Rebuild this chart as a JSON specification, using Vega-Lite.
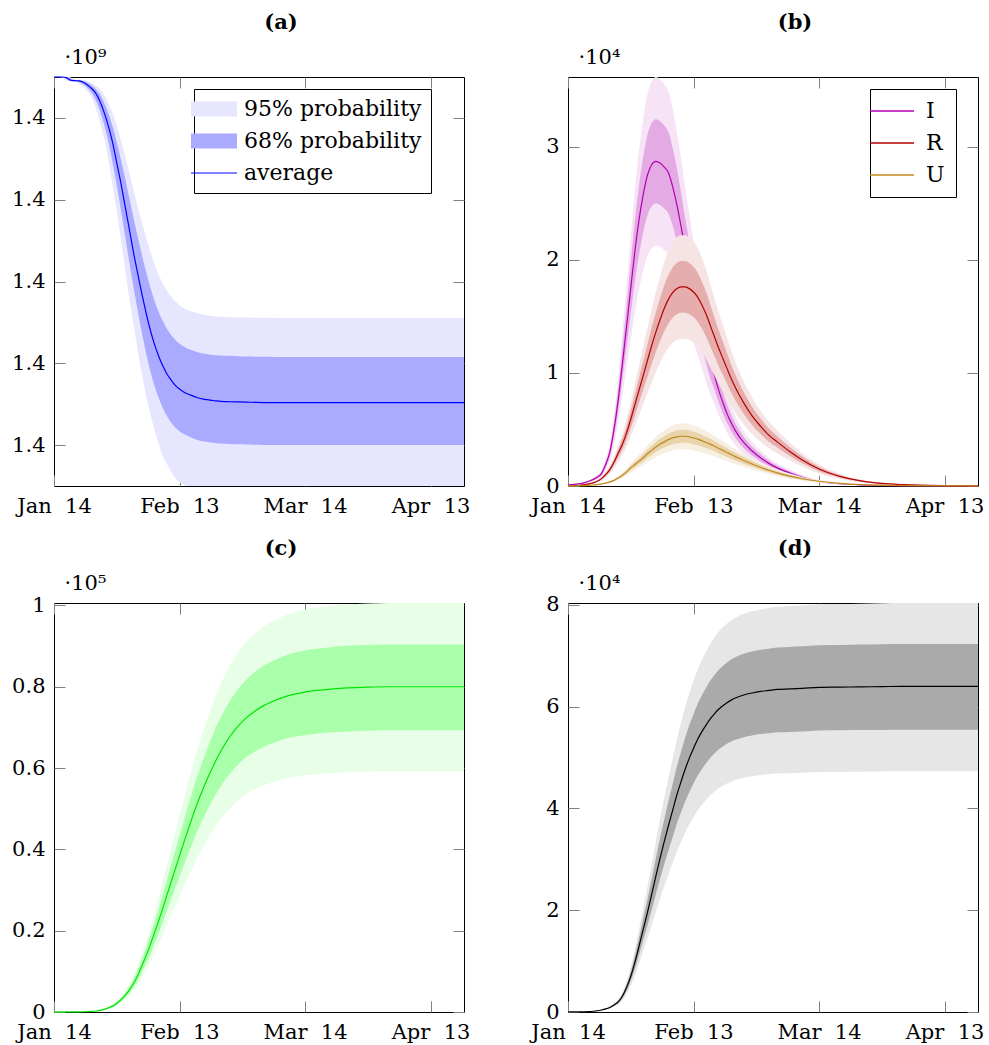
{
"$schema": "https://vega.github.io/schema/vega-lite/v6.json",
"padding": {"left": 11, "top": 11, "right": 5, "bottom": 5},
"background": "white",
"config": {
  "font": "DejaVu Serif",
  "view": {"stroke": "black", "strokeWidth": 1},
  "axis": {"tickSize": -11, "tickColor": "#808080", "tickWidth": 1, "labelPadding": 20, "labelFont": "DejaVu Serif", "labelFontSize": 21, "labelColor": "black", "titleFont": "DejaVu Serif", "titleFontSize": 21, "titleFontWeight": "normal", "titleColor": "black", "domain": false, "grid": false, "labelFlush": false, "labelOverlap": false},
  "title": {"font": "DejaVu Serif", "fontSize": 21, "fontWeight": "bold", "color": "black", "anchor": "middle", "frame": "group", "offset": 13, "baseline": "alphabetic"},
  "legend": {"orient": "none", "title": null, "strokeColor": "black", "fillColor": "white", "padding": 9, "labelFont": "DejaVu Serif", "labelFontSize": 22, "labelColor": "black", "labelLimit": 0, "symbolSize": 400, "rowPadding": 10}
},
"resolve": {"scale": {"color": "independent"}, "legend": {"color": "independent"}},
"datasets": {
"a": [
{"date":"2020-01-14","lo95":1400090000,"lo68":1400090000,"mean":1400090000,"hi68":1400090000,"hi95":1400090000},
{"date":"2020-01-15","lo95":1400090000,"lo68":1400090000,"mean":1400090000,"hi68":1400090000,"hi95":1400090000},
{"date":"2020-01-16","lo95":1400089811,"lo68":1400089915,"mean":1400090000,"hi68":1400090000,"hi95":1400090000},
{"date":"2020-01-17","lo95":1400088992,"lo68":1400089463,"mean":1400089850,"hi68":1400089935,"hi95":1400090000},
{"date":"2020-01-18","lo95":1400088866,"lo68":1400089039,"mean":1400089200,"hi68":1400089591,"hi95":1400089889},
{"date":"2020-01-19","lo95":1400088803,"lo68":1400088955,"mean":1400089100,"hi68":1400089269,"hi95":1400089408},
{"date":"2020-01-20","lo95":1400088362,"lo68":1400088729,"mean":1400089050,"hi68":1400089204,"hi95":1400089334},
{"date":"2020-01-21","lo95":1400087543,"lo68":1400088164,"mean":1400088700,"hi68":1400089032,"hi95":1400089297},
{"date":"2020-01-22","lo95":1400086472,"lo68":1400087316,"mean":1400088050,"hi68":1400088602,"hi95":1400089038},
{"date":"2020-01-23","lo95":1400084960,"lo68":1400086158,"mean":1400087200,"hi68":1400087957,"hi95":1400088557},
{"date":"2020-01-24","lo95":1400082440,"lo68":1400084350,"mean":1400086000,"hi68":1400087076,"hi95":1400087928},
{"date":"2020-01-25","lo95":1400079038,"lo68":1400081694,"mean":1400084000,"hi68":1400085700,"hi95":1400087040},
{"date":"2020-01-26","lo95":1400074880,"lo68":1400078304,"mean":1400081300,"hi68":1400083679,"hi95":1400085560},
{"date":"2020-01-27","lo95":1400069840,"lo68":1400074180,"mean":1400078000,"hi68":1400081099,"hi95":1400083562},
{"date":"2020-01-28","lo95":1400063540,"lo68":1400069095,"mean":1400074000,"hi68":1400077960,"hi95":1400081120},
{"date":"2020-01-29","lo95":1400057240,"lo68":1400063445,"mean":1400069000,"hi68":1400074090,"hi95":1400078160},
{"date":"2020-01-30","lo95":1400050184,"lo68":1400057456,"mean":1400064000,"hi68":1400069790,"hi95":1400074460},
{"date":"2020-01-31","lo95":1400043128,"lo68":1400051128,"mean":1400058400,"hi68":1400065232,"hi95":1400070760},
{"date":"2020-02-01","lo95":1400035946,"lo68":1400044743,"mean":1400052800,"hi68":1400060416,"hi95":1400066616},
{"date":"2020-02-02","lo95":1400029520,"lo68":1400038641,"mean":1400047100,"hi68":1400055557,"hi95":1400062472},
{"date":"2020-02-03","lo95":1400023220,"lo68":1400032935,"mean":1400042000,"hi68":1400050913,"hi95":1400058254},
{"date":"2020-02-04","lo95":1400017424,"lo68":1400027511,"mean":1400037000,"hi68":1400046570,"hi95":1400054480},
{"date":"2020-02-05","lo95":1400012132,"lo68":1400022539,"mean":1400032400,"hi68":1400042442,"hi95":1400050780},
{"date":"2020-02-06","lo95":1400007722,"lo68":1400018188,"mean":1400028200,"hi68":1400038658,"hi95":1400047376},
{"date":"2020-02-07","lo95":1400003800,"lo68":1400014572,"mean":1400024700,"hi68":1400035347,"hi95":1400044268},
{"date":"2020-02-08","lo95":1400000300,"lo68":1400011578,"mean":1400021800,"hi68":1400032595,"hi95":1400041678},
{"date":"2020-02-09","lo95":1399997400,"lo68":1400009092,"mean":1400019400,"hi68":1400030316,"hi95":1400039532},
{"date":"2020-02-10","lo95":1399995300,"lo68":1400007114,"mean":1400017400,"hi68":1400028424,"hi95":1400037756},
{"date":"2020-02-11","lo95":1399993500,"lo68":1400005532,"mean":1400015900,"hi68":1400026919,"hi95":1400036276},
{"date":"2020-02-12","lo95":1399992000,"lo68":1400004289,"mean":1400014600,"hi68":1400025715,"hi95":1400035166},
{"date":"2020-02-13","lo95":1399990900,"lo68":1400003385,"mean":1400013700,"hi68":1400024769,"hi95":1400034204},
{"date":"2020-02-14","lo95":1399990300,"lo68":1400002707,"mean":1400013000,"hi68":1400024081,"hi95":1400033538},
{"date":"2020-02-15","lo95":1399990000,"lo68":1400002199,"mean":1400012500,"hi68":1400023565,"hi95":1400033020},
{"date":"2020-02-16","lo95":1399990000,"lo68":1400001747,"mean":1400012100,"hi68":1400023178,"hi95":1400032650},
{"date":"2020-02-17","lo95":1399990000,"lo68":1400001351,"mean":1400011700,"hi68":1400022834,"hi95":1400032354},
{"date":"2020-02-18","lo95":1399990000,"lo68":1400001069,"mean":1400011400,"hi68":1400022533,"hi95":1400032058},
{"date":"2020-02-19","lo95":1399990000,"lo68":1400000871,"mean":1400011200,"hi68":1400022318,"hi95":1400031836},
{"date":"2020-02-20","lo95":1399990000,"lo68":1400000710,"mean":1400011050,"hi68":1400022160,"hi95":1400031670},
{"date":"2020-02-21","lo95":1399990000,"lo68":1400000560,"mean":1400010900,"hi68":1400022060,"hi95":1400031540},
{"date":"2020-02-22","lo95":1399990000,"lo68":1400000460,"mean":1400010800,"hi68":1400021990,"hi95":1400031460},
{"date":"2020-02-23","lo95":1399990000,"lo68":1400000390,"mean":1400010700,"hi68":1400021930,"hi95":1400031390},
{"date":"2020-02-25","lo95":1399990000,"lo68":1400000260,"mean":1400010600,"hi68":1400021820,"hi95":1400031280},
{"date":"2020-02-27","lo95":1399990000,"lo68":1400000180,"mean":1400010550,"hi68":1400021740,"hi95":1400031210},
{"date":"2020-02-29","lo95":1399990000,"lo68":1400000130,"mean":1400010500,"hi68":1400021680,"hi95":1400031170},
{"date":"2020-03-02","lo95":1399990000,"lo68":1400000100,"mean":1400010450,"hi68":1400021630,"hi95":1400031140},
{"date":"2020-03-04","lo95":1399990000,"lo68":1400000050,"mean":1400010400,"hi68":1400021580,"hi95":1400031120},
{"date":"2020-03-07","lo95":1399990000,"lo68":1400000050,"mean":1400010400,"hi68":1400021550,"hi95":1400031100},
{"date":"2020-03-14","lo95":1399990000,"lo68":1400000050,"mean":1400010400,"hi68":1400021550,"hi95":1400031100},
{"date":"2020-03-24","lo95":1399990000,"lo68":1400000050,"mean":1400010400,"hi68":1400021550,"hi95":1400031100},
{"date":"2020-04-03","lo95":1399990000,"lo68":1400000050,"mean":1400010400,"hi68":1400021550,"hi95":1400031100},
{"date":"2020-04-13","lo95":1399990000,"lo68":1400000050,"mean":1400010400,"hi68":1400021550,"hi95":1400031100},
{"date":"2020-04-21","lo95":1399990000,"lo68":1400000050,"mean":1400010400,"hi68":1400021550,"hi95":1400031100}
],
"b": [
{"date":"2020-01-14","series":"I","lo95":74,"lo68":87,"mean":100,"hi68":113,"hi95":126},
{"date":"2020-01-15","series":"I","lo95":89,"lo68":104,"mean":120,"hi68":136,"hi95":151},
{"date":"2020-01-16","series":"I","lo95":118,"lo68":139,"mean":160,"hi68":181,"hi95":202},
{"date":"2020-01-17","series":"I","lo95":163,"lo68":191,"mean":220,"hi68":249,"hi95":277},
{"date":"2020-01-18","series":"I","lo95":222,"lo68":261,"mean":300,"hi68":339,"hi95":378},
{"date":"2020-01-19","series":"I","lo95":311,"lo68":365,"mean":420,"hi68":475,"hi95":529},
{"date":"2020-01-20","series":"I","lo95":429,"lo68":505,"mean":580,"hi68":655,"hi95":731},
{"date":"2020-01-21","series":"I","lo95":577,"lo68":679,"mean":780,"hi68":881,"hi95":983},
{"date":"2020-01-22","series":"I","lo95":814,"lo68":957,"mean":1100,"hi68":1243,"hi95":1386},
{"date":"2020-01-23","series":"I","lo95":1406,"lo68":1653,"mean":1900,"hi68":2147,"hi95":2394},
{"date":"2020-01-24","series":"I","lo95":2220,"lo68":2610,"mean":3000,"hi68":3390,"hi95":3780},
{"date":"2020-01-25","series":"I","lo95":3700,"lo68":4350,"mean":5000,"hi68":5650,"hi95":6300},
{"date":"2020-01-26","series":"I","lo95":5624,"lo68":6612,"mean":7600,"hi68":8588,"hi95":9576},
{"date":"2020-01-27","series":"I","lo95":7992,"lo68":9396,"mean":10800,"hi68":12204,"hi95":13608},
{"date":"2020-01-28","series":"I","lo95":10434,"lo68":12267,"mean":14100,"hi68":15933,"hi95":17766},
{"date":"2020-01-29","series":"I","lo95":12950,"lo68":15225,"mean":17500,"hi68":19775,"hi95":22050},
{"date":"2020-01-30","series":"I","lo95":15392,"lo68":18096,"mean":20800,"hi68":23504,"hi95":26208},
{"date":"2020-01-31","series":"I","lo95":17464,"lo68":20532,"mean":23600,"hi68":26668,"hi95":29736},
{"date":"2020-02-01","series":"I","lo95":19092,"lo68":22446,"mean":25800,"hi68":29154,"hi95":32508},
{"date":"2020-02-02","series":"I","lo95":20350,"lo68":23925,"mean":27500,"hi68":31075,"hi95":34650},
{"date":"2020-02-03","series":"I","lo95":21016,"lo68":24708,"mean":28400,"hi68":32092,"hi95":35784},
{"date":"2020-02-04","series":"I","lo95":21238,"lo68":24969,"mean":28700,"hi68":32431,"hi95":36162},
{"date":"2020-02-05","series":"I","lo95":21127,"lo68":24839,"mean":28550,"hi68":32262,"hi95":35973},
{"date":"2020-02-06","series":"I","lo95":20868,"lo68":24534,"mean":28200,"hi68":31866,"hi95":35532},
{"date":"2020-02-07","series":"I","lo95":20498,"lo68":24099,"mean":27700,"hi68":31301,"hi95":34902},
{"date":"2020-02-08","series":"I","lo95":19610,"lo68":23055,"mean":26500,"hi68":29945,"hi95":33390},
{"date":"2020-02-09","series":"I","lo95":18426,"lo68":21663,"mean":24900,"hi68":28137,"hi95":31374},
{"date":"2020-02-10","series":"I","lo95":17020,"lo68":20010,"mean":23000,"hi68":25990,"hi95":28980},
{"date":"2020-02-11","series":"I","lo95":15540,"lo68":18270,"mean":21000,"hi68":23730,"hi95":26460},
{"date":"2020-02-12","series":"I","lo95":14134,"lo68":16617,"mean":19100,"hi68":21583,"hi95":24066},
{"date":"2020-02-13","series":"I","lo95":12728,"lo68":14964,"mean":17200,"hi68":19436,"hi95":21672},
{"date":"2020-02-14","series":"I","lo95":11544,"lo68":13572,"mean":15600,"hi68":17628,"hi95":19656},
{"date":"2020-02-15","series":"I","lo95":10434,"lo68":12267,"mean":14100,"hi68":15933,"hi95":17766},
{"date":"2020-02-16","series":"I","lo95":9250,"lo68":10875,"mean":12500,"hi68":14125,"hi95":15750},
{"date":"2020-02-17","series":"I","lo95":8140,"lo68":9570,"mean":11000,"hi68":12430,"hi95":13860},
{"date":"2020-02-18","series":"I","lo95":7252,"lo68":8526,"mean":9800,"hi68":11074,"hi95":12348},
{"date":"2020-02-19","series":"I","lo95":6290,"lo68":7395,"mean":8500,"hi68":9605,"hi95":10710},
{"date":"2020-02-20","series":"I","lo95":5476,"lo68":6438,"mean":7400,"hi68":8362,"hi95":9324},
{"date":"2020-02-21","series":"I","lo95":4736,"lo68":5568,"mean":6400,"hi68":7232,"hi95":8064},
{"date":"2020-02-22","series":"I","lo95":4144,"lo68":4872,"mean":5600,"hi68":6328,"hi95":7056},
{"date":"2020-02-23","series":"I","lo95":3626,"lo68":4263,"mean":4900,"hi68":5537,"hi95":6174},
{"date":"2020-02-25","series":"I","lo95":2849,"lo68":3350,"mean":3850,"hi68":4351,"hi95":4851},
{"date":"2020-02-27","series":"I","lo95":2294,"lo68":2697,"mean":3100,"hi68":3503,"hi95":3906},
{"date":"2020-02-29","series":"I","lo95":1850,"lo68":2175,"mean":2500,"hi68":2825,"hi95":3150},
{"date":"2020-03-02","series":"I","lo95":1480,"lo68":1740,"mean":2000,"hi68":2260,"hi95":2520},
{"date":"2020-03-04","series":"I","lo95":1184,"lo68":1392,"mean":1600,"hi68":1808,"hi95":2016},
{"date":"2020-03-07","series":"I","lo95":851,"lo68":1001,"mean":1150,"hi68":1300,"hi95":1449},
{"date":"2020-03-10","series":"I","lo95":570,"lo68":670,"mean":770,"hi68":870,"hi95":970},
{"date":"2020-03-14","series":"I","lo95":296,"lo68":348,"mean":400,"hi68":452,"hi95":504},
{"date":"2020-03-19","series":"I","lo95":148,"lo68":174,"mean":200,"hi68":226,"hi95":252},
{"date":"2020-03-24","series":"I","lo95":74,"lo68":87,"mean":100,"hi68":113,"hi95":126},
{"date":"2020-03-29","series":"I","lo95":37,"lo68":44,"mean":50,"hi68":57,"hi95":63},
{"date":"2020-04-03","series":"I","lo95":22,"lo68":26,"mean":30,"hi68":34,"hi95":38},
{"date":"2020-04-13","series":"I","lo95":7,"lo68":9,"mean":10,"hi68":11,"hi95":13},
{"date":"2020-04-21","series":"I","lo95":4,"lo68":4,"mean":5,"hi68":6,"hi95":6},
{"date":"2020-01-14","series":"R","lo95":22,"lo68":26,"mean":30,"hi68":34,"hi95":38},
{"date":"2020-01-15","series":"R","lo95":30,"lo68":35,"mean":40,"hi68":45,"hi95":50},
{"date":"2020-01-16","series":"R","lo95":44,"lo68":52,"mean":60,"hi68":68,"hi95":76},
{"date":"2020-01-17","series":"R","lo95":67,"lo68":78,"mean":90,"hi68":102,"hi95":113},
{"date":"2020-01-18","series":"R","lo95":96,"lo68":113,"mean":130,"hi68":147,"hi95":164},
{"date":"2020-01-19","series":"R","lo95":141,"lo68":165,"mean":190,"hi68":215,"hi95":239},
{"date":"2020-01-20","series":"R","lo95":207,"lo68":244,"mean":280,"hi68":316,"hi95":353},
{"date":"2020-01-21","series":"R","lo95":311,"lo68":365,"mean":420,"hi68":475,"hi95":529},
{"date":"2020-01-22","series":"R","lo95":481,"lo68":566,"mean":650,"hi68":735,"hi95":819},
{"date":"2020-01-23","series":"R","lo95":740,"lo68":870,"mean":1000,"hi68":1130,"hi95":1260},
{"date":"2020-01-24","series":"R","lo95":1073,"lo68":1262,"mean":1450,"hi68":1639,"hi95":1827},
{"date":"2020-01-25","series":"R","lo95":1554,"lo68":1827,"mean":2100,"hi68":2373,"hi95":2646},
{"date":"2020-01-26","series":"R","lo95":2146,"lo68":2523,"mean":2900,"hi68":3277,"hi95":3654},
{"date":"2020-01-27","series":"R","lo95":2738,"lo68":3219,"mean":3700,"hi68":4181,"hi95":4662},
{"date":"2020-01-28","series":"R","lo95":3478,"lo68":4089,"mean":4700,"hi68":5311,"hi95":5922},
{"date":"2020-01-29","series":"R","lo95":4366,"lo68":5133,"mean":5900,"hi68":6667,"hi95":7434},
{"date":"2020-01-30","series":"R","lo95":5328,"lo68":6264,"mean":7200,"hi68":8136,"hi95":9072},
{"date":"2020-01-31","series":"R","lo95":6290,"lo68":7395,"mean":8500,"hi68":9605,"hi95":10710},
{"date":"2020-02-01","series":"R","lo95":7252,"lo68":8526,"mean":9800,"hi68":11074,"hi95":12348},
{"date":"2020-02-02","series":"R","lo95":8214,"lo68":9657,"mean":11100,"hi68":12543,"hi95":13986},
{"date":"2020-02-03","series":"R","lo95":9176,"lo68":10788,"mean":12400,"hi68":14012,"hi95":15624},
{"date":"2020-02-04","series":"R","lo95":10064,"lo68":11832,"mean":13600,"hi68":15368,"hi95":17136},
{"date":"2020-02-05","series":"R","lo95":10878,"lo68":12789,"mean":14700,"hi68":16611,"hi95":18522},
{"date":"2020-02-06","series":"R","lo95":11618,"lo68":13659,"mean":15700,"hi68":17741,"hi95":19782},
{"date":"2020-02-07","series":"R","lo95":12210,"lo68":14355,"mean":16500,"hi68":18645,"hi95":20790},
{"date":"2020-02-08","series":"R","lo95":12654,"lo68":14877,"mean":17100,"hi68":19323,"hi95":21546},
{"date":"2020-02-09","series":"R","lo95":12913,"lo68":15182,"mean":17450,"hi68":19719,"hi95":21987},
{"date":"2020-02-10","series":"R","lo95":13024,"lo68":15312,"mean":17600,"hi68":19888,"hi95":22176},
{"date":"2020-02-11","series":"R","lo95":13024,"lo68":15312,"mean":17600,"hi68":19888,"hi95":22176},
{"date":"2020-02-12","series":"R","lo95":12913,"lo68":15182,"mean":17450,"hi68":19719,"hi95":21987},
{"date":"2020-02-13","series":"R","lo95":12691,"lo68":14921,"mean":17150,"hi68":19380,"hi95":21609},
{"date":"2020-02-14","series":"R","lo95":12358,"lo68":14529,"mean":16700,"hi68":18871,"hi95":21042},
{"date":"2020-02-15","series":"R","lo95":11840,"lo68":13920,"mean":16000,"hi68":18080,"hi95":20160},
{"date":"2020-02-16","series":"R","lo95":11248,"lo68":13224,"mean":15200,"hi68":17176,"hi95":19152},
{"date":"2020-02-17","series":"R","lo95":10508,"lo68":12354,"mean":14200,"hi68":16046,"hi95":17892},
{"date":"2020-02-18","series":"R","lo95":9768,"lo68":11484,"mean":13200,"hi68":14916,"hi95":16632},
{"date":"2020-02-19","series":"R","lo95":9028,"lo68":10614,"mean":12200,"hi68":13786,"hi95":15372},
{"date":"2020-02-20","series":"R","lo95":8362,"lo68":9831,"mean":11300,"hi68":12769,"hi95":14238},
{"date":"2020-02-21","series":"R","lo95":7696,"lo68":9048,"mean":10400,"hi68":11752,"hi95":13104},
{"date":"2020-02-22","series":"R","lo95":7030,"lo68":8265,"mean":9500,"hi68":10735,"hi95":11970},
{"date":"2020-02-23","series":"R","lo95":6438,"lo68":7569,"mean":8700,"hi68":9831,"hi95":10962},
{"date":"2020-02-25","series":"R","lo95":5439,"lo68":6395,"mean":7350,"hi68":8306,"hi95":9261},
{"date":"2020-02-27","series":"R","lo95":4588,"lo68":5394,"mean":6200,"hi68":7006,"hi95":7812},
{"date":"2020-02-29","series":"R","lo95":3922,"lo68":4611,"mean":5300,"hi68":5989,"hi95":6678},
{"date":"2020-03-02","series":"R","lo95":3330,"lo68":3915,"mean":4500,"hi68":5085,"hi95":5670},
{"date":"2020-03-04","series":"R","lo95":2886,"lo68":3393,"mean":3900,"hi68":4407,"hi95":4914},
{"date":"2020-03-07","series":"R","lo95":2257,"lo68":2654,"mean":3050,"hi68":3447,"hi95":3843},
{"date":"2020-03-10","series":"R","lo95":1702,"lo68":2001,"mean":2300,"hi68":2599,"hi95":2898},
{"date":"2020-03-14","series":"R","lo95":1110,"lo68":1305,"mean":1500,"hi68":1695,"hi95":1890},
{"date":"2020-03-19","series":"R","lo95":629,"lo68":740,"mean":850,"hi68":961,"hi95":1071},
{"date":"2020-03-24","series":"R","lo95":333,"lo68":392,"mean":450,"hi68":509,"hi95":567},
{"date":"2020-03-29","series":"R","lo95":170,"lo68":200,"mean":230,"hi68":260,"hi95":290},
{"date":"2020-04-03","series":"R","lo95":89,"lo68":104,"mean":120,"hi68":136,"hi95":151},
{"date":"2020-04-13","series":"R","lo95":22,"lo68":26,"mean":30,"hi68":34,"hi95":38},
{"date":"2020-04-21","series":"R","lo95":7,"lo68":9,"mean":10,"hi68":11,"hi95":13},
{"date":"2020-01-14","series":"U","lo95":7,"lo68":9,"mean":10,"hi68":11,"hi95":13},
{"date":"2020-01-15","series":"U","lo95":11,"lo68":13,"mean":15,"hi68":17,"hi95":19},
{"date":"2020-01-16","series":"U","lo95":15,"lo68":17,"mean":20,"hi68":23,"hi95":25},
{"date":"2020-01-17","series":"U","lo95":22,"lo68":26,"mean":30,"hi68":34,"hi95":38},
{"date":"2020-01-18","series":"U","lo95":30,"lo68":35,"mean":40,"hi68":45,"hi95":50},
{"date":"2020-01-19","series":"U","lo95":44,"lo68":52,"mean":60,"hi68":68,"hi95":76},
{"date":"2020-01-20","series":"U","lo95":67,"lo68":78,"mean":90,"hi68":102,"hi95":113},
{"date":"2020-01-21","series":"U","lo95":96,"lo68":113,"mean":130,"hi68":147,"hi95":164},
{"date":"2020-01-22","series":"U","lo95":133,"lo68":157,"mean":180,"hi68":203,"hi95":227},
{"date":"2020-01-23","series":"U","lo95":192,"lo68":226,"mean":260,"hi68":294,"hi95":328},
{"date":"2020-01-24","series":"U","lo95":266,"lo68":313,"mean":360,"hi68":407,"hi95":454},
{"date":"2020-01-25","series":"U","lo95":370,"lo68":435,"mean":500,"hi68":565,"hi95":630},
{"date":"2020-01-26","series":"U","lo95":518,"lo68":609,"mean":700,"hi68":791,"hi95":882},
{"date":"2020-01-27","series":"U","lo95":703,"lo68":827,"mean":950,"hi68":1074,"hi95":1197},
{"date":"2020-01-28","series":"U","lo95":925,"lo68":1088,"mean":1250,"hi68":1413,"hi95":1575},
{"date":"2020-01-29","series":"U","lo95":1184,"lo68":1392,"mean":1600,"hi68":1808,"hi95":2016},
{"date":"2020-01-30","series":"U","lo95":1406,"lo68":1653,"mean":1900,"hi68":2147,"hi95":2394},
{"date":"2020-01-31","series":"U","lo95":1628,"lo68":1914,"mean":2200,"hi68":2486,"hi95":2772},
{"date":"2020-02-01","series":"U","lo95":1850,"lo68":2175,"mean":2500,"hi68":2825,"hi95":3150},
{"date":"2020-02-02","series":"U","lo95":2109,"lo68":2480,"mean":2850,"hi68":3221,"hi95":3591},
{"date":"2020-02-03","series":"U","lo95":2331,"lo68":2741,"mean":3150,"hi68":3560,"hi95":3969},
{"date":"2020-02-04","series":"U","lo95":2553,"lo68":3002,"mean":3450,"hi68":3899,"hi95":4347},
{"date":"2020-02-05","series":"U","lo95":2738,"lo68":3219,"mean":3700,"hi68":4181,"hi95":4662},
{"date":"2020-02-06","series":"U","lo95":2886,"lo68":3393,"mean":3900,"hi68":4407,"hi95":4914},
{"date":"2020-02-07","series":"U","lo95":3034,"lo68":3567,"mean":4100,"hi68":4633,"hi95":5166},
{"date":"2020-02-08","series":"U","lo95":3145,"lo68":3698,"mean":4250,"hi68":4803,"hi95":5355},
{"date":"2020-02-09","series":"U","lo95":3219,"lo68":3785,"mean":4350,"hi68":4916,"hi95":5481},
{"date":"2020-02-10","series":"U","lo95":3256,"lo68":3828,"mean":4400,"hi68":4972,"hi95":5544},
{"date":"2020-02-11","series":"U","lo95":3256,"lo68":3828,"mean":4400,"hi68":4972,"hi95":5544},
{"date":"2020-02-12","series":"U","lo95":3219,"lo68":3785,"mean":4350,"hi68":4916,"hi95":5481},
{"date":"2020-02-13","series":"U","lo95":3145,"lo68":3698,"mean":4250,"hi68":4803,"hi95":5355},
{"date":"2020-02-14","series":"U","lo95":3071,"lo68":3611,"mean":4150,"hi68":4690,"hi95":5229},
{"date":"2020-02-15","series":"U","lo95":2960,"lo68":3480,"mean":4000,"hi68":4520,"hi95":5040},
{"date":"2020-02-16","series":"U","lo95":2849,"lo68":3350,"mean":3850,"hi68":4351,"hi95":4851},
{"date":"2020-02-17","series":"U","lo95":2738,"lo68":3219,"mean":3700,"hi68":4181,"hi95":4662},
{"date":"2020-02-18","series":"U","lo95":2605,"lo68":3062,"mean":3520,"hi68":3978,"hi95":4435},
{"date":"2020-02-19","series":"U","lo95":2464,"lo68":2897,"mean":3330,"hi68":3763,"hi95":4196},
{"date":"2020-02-20","series":"U","lo95":2331,"lo68":2741,"mean":3150,"hi68":3560,"hi95":3969},
{"date":"2020-02-21","series":"U","lo95":2190,"lo68":2575,"mean":2960,"hi68":3345,"hi95":3730},
{"date":"2020-02-22","series":"U","lo95":2057,"lo68":2419,"mean":2780,"hi68":3141,"hi95":3503},
{"date":"2020-02-23","series":"U","lo95":1924,"lo68":2262,"mean":2600,"hi68":2938,"hi95":3276},
{"date":"2020-02-25","series":"U","lo95":1672,"lo68":1966,"mean":2260,"hi68":2554,"hi95":2848},
{"date":"2020-02-27","series":"U","lo95":1443,"lo68":1697,"mean":1950,"hi68":2204,"hi95":2457},
{"date":"2020-02-29","series":"U","lo95":1228,"lo68":1444,"mean":1660,"hi68":1876,"hi95":2092},
{"date":"2020-03-02","series":"U","lo95":1029,"lo68":1209,"mean":1390,"hi68":1571,"hi95":1751},
{"date":"2020-03-04","series":"U","lo95":858,"lo68":1009,"mean":1160,"hi68":1311,"hi95":1462},
{"date":"2020-03-07","series":"U","lo95":644,"lo68":757,"mean":870,"hi68":983,"hi95":1096},
{"date":"2020-03-10","series":"U","lo95":474,"lo68":557,"mean":640,"hi68":723,"hi95":806},
{"date":"2020-03-14","series":"U","lo95":311,"lo68":365,"mean":420,"hi68":475,"hi95":529},
{"date":"2020-03-19","series":"U","lo95":178,"lo68":209,"mean":240,"hi68":271,"hi95":302},
{"date":"2020-03-24","series":"U","lo95":96,"lo68":113,"mean":130,"hi68":147,"hi95":164},
{"date":"2020-03-29","series":"U","lo95":52,"lo68":61,"mean":70,"hi68":79,"hi95":88},
{"date":"2020-04-03","series":"U","lo95":30,"lo68":35,"mean":40,"hi68":45,"hi95":50},
{"date":"2020-04-13","series":"U","lo95":7,"lo68":9,"mean":10,"hi68":11,"hi95":13},
{"date":"2020-04-21","series":"U","lo95":4,"lo68":4,"mean":5,"hi68":6,"hi95":6}
],
"c": [
{"date":"2020-01-14","lo95":0,"lo68":0,"mean":0,"hi68":0,"hi95":0},
{"date":"2020-01-15","lo95":7,"lo68":9,"mean":10,"hi68":11,"hi95":13},
{"date":"2020-01-16","lo95":7,"lo68":9,"mean":10,"hi68":11,"hi95":13},
{"date":"2020-01-17","lo95":15,"lo68":17,"mean":20,"hi68":23,"hi95":25},
{"date":"2020-01-18","lo95":15,"lo68":17,"mean":20,"hi68":23,"hi95":25},
{"date":"2020-01-19","lo95":22,"lo68":26,"mean":30,"hi68":34,"hi95":38},
{"date":"2020-01-20","lo95":30,"lo68":35,"mean":40,"hi68":45,"hi95":50},
{"date":"2020-01-21","lo95":44,"lo68":52,"mean":60,"hi68":68,"hi95":75},
{"date":"2020-01-22","lo95":74,"lo68":87,"mean":100,"hi68":113,"hi95":126},
{"date":"2020-01-23","lo95":118,"lo68":139,"mean":160,"hi68":181,"hi95":201},
{"date":"2020-01-24","lo95":185,"lo68":217,"mean":250,"hi68":283,"hi95":314},
{"date":"2020-01-25","lo95":296,"lo68":346,"mean":400,"hi68":452,"hi95":503},
{"date":"2020-01-26","lo95":481,"lo68":563,"mean":650,"hi68":735,"hi95":817},
{"date":"2020-01-27","lo95":740,"lo68":866,"mean":1000,"hi68":1130,"hi95":1258},
{"date":"2020-01-28","lo95":1073,"lo68":1256,"mean":1450,"hi68":1639,"hi95":1823},
{"date":"2020-01-29","lo95":1554,"lo68":1819,"mean":2100,"hi68":2373,"hi95":2641},
{"date":"2020-01-30","lo95":2220,"lo68":2598,"mean":3000,"hi68":3390,"hi95":3773},
{"date":"2020-01-31","lo95":3034,"lo68":3551,"mean":4100,"hi68":4633,"hi95":5156},
{"date":"2020-02-01","lo95":3996,"lo68":4676,"mean":5400,"hi68":6102,"hi95":6791},
{"date":"2020-02-02","lo95":5180,"lo68":6062,"mean":7000,"hi68":7910,"hi95":8803},
{"date":"2020-02-03","lo95":6660,"lo68":7794,"mean":9000,"hi68":10170,"hi95":11318},
{"date":"2020-02-04","lo95":8436,"lo68":9872,"mean":11400,"hi68":12882,"hi95":14336},
{"date":"2020-02-05","lo95":10212,"lo68":11951,"mean":13800,"hi68":15594,"hi95":17354},
{"date":"2020-02-06","lo95":12210,"lo68":14289,"mean":16500,"hi68":18645,"hi95":20749},
{"date":"2020-02-07","lo95":14356,"lo68":16800,"mean":19400,"hi68":21922,"hi95":24396},
{"date":"2020-02-08","lo95":16576,"lo68":19398,"mean":22400,"hi68":25312,"hi95":28168},
{"date":"2020-02-09","lo95":18870,"lo68":22083,"mean":25500,"hi68":28815,"hi95":32066},
{"date":"2020-02-10","lo95":21312,"lo68":24941,"mean":28800,"hi68":32544,"hi95":36216},
{"date":"2020-02-11","lo95":23680,"lo68":27712,"mean":32000,"hi68":36160,"hi95":40240},
{"date":"2020-02-12","lo95":26048,"lo68":30483,"mean":35200,"hi68":39776,"hi95":44264},
{"date":"2020-02-13","lo95":28416,"lo68":33254,"mean":38400,"hi68":43392,"hi95":48288},
{"date":"2020-02-14","lo95":30784,"lo68":36026,"mean":41600,"hi68":47008,"hi95":52312},
{"date":"2020-02-15","lo95":33078,"lo68":38710,"mean":44700,"hi68":50511,"hi95":56210},
{"date":"2020-02-16","lo95":35298,"lo68":41308,"mean":47700,"hi68":53901,"hi95":59983},
{"date":"2020-02-17","lo95":37444,"lo68":43820,"mean":50600,"hi68":57178,"hi95":63630},
{"date":"2020-02-18","lo95":39442,"lo68":46158,"mean":53300,"hi68":60229,"hi95":67025},
{"date":"2020-02-19","lo95":41292,"lo68":48323,"mean":55800,"hi68":63054,"hi95":70169},
{"date":"2020-02-20","lo95":43068,"lo68":50401,"mean":58200,"hi68":65766,"hi95":73187},
{"date":"2020-02-21","lo95":44696,"lo68":52306,"mean":60400,"hi68":68252,"hi95":75953},
{"date":"2020-02-22","lo95":46250,"lo68":54125,"mean":62500,"hi68":70625,"hi95":78594},
{"date":"2020-02-23","lo95":47656,"lo68":55770,"mean":64400,"hi68":72772,"hi95":80983},
{"date":"2020-02-25","lo95":50098,"lo68":58628,"mean":67700,"hi68":76501,"hi95":85133},
{"date":"2020-02-27","lo95":52022,"lo68":60880,"mean":70300,"hi68":79439,"hi95":88402},
{"date":"2020-02-29","lo95":53576,"lo68":62698,"mean":72400,"hi68":81812,"hi95":91043},
{"date":"2020-03-02","lo95":54760,"lo68":64084,"mean":74000,"hi68":83620,"hi95":93055},
{"date":"2020-03-04","lo95":55722,"lo68":65210,"mean":75300,"hi68":85089,"hi95":94690},
{"date":"2020-03-07","lo95":56758,"lo68":66422,"mean":76700,"hi68":86671,"hi95":96450},
{"date":"2020-03-10","lo95":57572,"lo68":67375,"mean":77800,"hi68":87914,"hi95":97834},
{"date":"2020-03-14","lo95":58238,"lo68":68154,"mean":78700,"hi68":88931,"hi95":98965},
{"date":"2020-03-19","lo95":58682,"lo68":68674,"mean":79300,"hi68":89609,"hi95":99720},
{"date":"2020-03-24","lo95":58978,"lo68":69020,"mean":79700,"hi68":90061,"hi95":100223},
{"date":"2020-03-29","lo95":59126,"lo68":69193,"mean":79900,"hi68":90287,"hi95":100474},
{"date":"2020-04-03","lo95":59200,"lo68":69280,"mean":80000,"hi68":90400,"hi95":100600},
{"date":"2020-04-13","lo95":59200,"lo68":69280,"mean":80000,"hi68":90400,"hi95":100600},
{"date":"2020-04-21","lo95":59200,"lo68":69280,"mean":80000,"hi68":90400,"hi95":100600}
],
"d": [
{"date":"2020-01-14","lo95":0,"lo68":0,"mean":0,"hi68":0,"hi95":0},
{"date":"2020-01-15","lo95":7,"lo68":9,"mean":10,"hi68":11,"hi95":13},
{"date":"2020-01-16","lo95":15,"lo68":17,"mean":20,"hi68":23,"hi95":25},
{"date":"2020-01-17","lo95":22,"lo68":26,"mean":30,"hi68":34,"hi95":38},
{"date":"2020-01-18","lo95":37,"lo68":43,"mean":50,"hi68":57,"hi95":63},
{"date":"2020-01-19","lo95":67,"lo68":78,"mean":90,"hi68":102,"hi95":113},
{"date":"2020-01-20","lo95":111,"lo68":130,"mean":150,"hi68":170,"hi95":188},
{"date":"2020-01-21","lo95":185,"lo68":217,"mean":250,"hi68":283,"hi95":314},
{"date":"2020-01-22","lo95":296,"lo68":347,"mean":400,"hi68":452,"hi95":502},
{"date":"2020-01-23","lo95":443,"lo68":520,"mean":600,"hi68":678,"hi95":754},
{"date":"2020-01-24","lo95":665,"lo68":780,"mean":900,"hi68":1017,"hi95":1130},
{"date":"2020-01-25","lo95":1035,"lo68":1214,"mean":1400,"hi68":1582,"hi95":1758},
{"date":"2020-01-26","lo95":1478,"lo68":1734,"mean":2000,"hi68":2260,"hi95":2512},
{"date":"2020-01-27","lo95":2291,"lo68":2688,"mean":3100,"hi68":3503,"hi95":3894},
{"date":"2020-01-28","lo95":3547,"lo68":4162,"mean":4800,"hi68":5424,"hi95":6029},
{"date":"2020-01-29","lo95":5173,"lo68":6069,"mean":7000,"hi68":7910,"hi95":8792},
{"date":"2020-01-30","lo95":7242,"lo68":8497,"mean":9800,"hi68":11074,"hi95":12309},
{"date":"2020-01-31","lo95":9607,"lo68":11271,"mean":13000,"hi68":14690,"hi95":16328},
{"date":"2020-02-01","lo95":12046,"lo68":14132,"mean":16300,"hi68":18419,"hi95":20473},
{"date":"2020-02-02","lo95":14484,"lo68":16993,"mean":19600,"hi68":22148,"hi95":24618},
{"date":"2020-02-03","lo95":17071,"lo68":20028,"mean":23100,"hi68":26103,"hi95":29014},
{"date":"2020-02-04","lo95":19731,"lo68":23149,"mean":26700,"hi68":30171,"hi95":33535},
{"date":"2020-02-05","lo95":22318,"lo68":26183,"mean":30200,"hi68":34126,"hi95":37931},
{"date":"2020-02-06","lo95":24757,"lo68":29045,"mean":33500,"hi68":37855,"hi95":42076},
{"date":"2020-02-07","lo95":27047,"lo68":31732,"mean":36600,"hi68":41358,"hi95":45970},
{"date":"2020-02-08","lo95":29264,"lo68":34333,"mean":39600,"hi68":44748,"hi95":49738},
{"date":"2020-02-09","lo95":31481,"lo68":36934,"mean":42600,"hi68":48138,"hi95":53506},
{"date":"2020-02-10","lo95":33403,"lo68":39188,"mean":45200,"hi68":51076,"hi95":56771},
{"date":"2020-02-11","lo95":35250,"lo68":41356,"mean":47700,"hi68":53901,"hi95":59911},
{"date":"2020-02-12","lo95":36876,"lo68":43263,"mean":49900,"hi68":56387,"hi95":62674},
{"date":"2020-02-13","lo95":38280,"lo68":44911,"mean":51800,"hi68":58534,"hi95":65061},
{"date":"2020-02-14","lo95":39610,"lo68":46471,"mean":53600,"hi68":60568,"hi95":67322},
{"date":"2020-02-15","lo95":40719,"lo68":47772,"mean":55100,"hi68":62263,"hi95":69206},
{"date":"2020-02-16","lo95":41680,"lo68":48899,"mean":56400,"hi68":63732,"hi95":70838},
{"date":"2020-02-17","lo95":42566,"lo68":49939,"mean":57600,"hi68":65088,"hi95":72346},
{"date":"2020-02-18","lo95":43305,"lo68":50806,"mean":58600,"hi68":66218,"hi95":73602},
{"date":"2020-02-19","lo95":43971,"lo68":51587,"mean":59500,"hi68":67235,"hi95":74732},
{"date":"2020-02-20","lo95":44488,"lo68":52193,"mean":60200,"hi68":68026,"hi95":75611},
{"date":"2020-02-21","lo95":44931,"lo68":52714,"mean":60800,"hi68":68704,"hi95":76365},
{"date":"2020-02-22","lo95":45301,"lo68":53147,"mean":61300,"hi68":69269,"hi95":76993},
{"date":"2020-02-23","lo95":45596,"lo68":53494,"mean":61700,"hi68":69721,"hi95":77495},
{"date":"2020-02-25","lo95":46040,"lo68":54014,"mean":62300,"hi68":70399,"hi95":78249},
{"date":"2020-02-27","lo95":46335,"lo68":54361,"mean":62700,"hi68":70851,"hi95":78751},
{"date":"2020-02-29","lo95":46557,"lo68":54621,"mean":63000,"hi68":71190,"hi95":79128},
{"date":"2020-03-02","lo95":46705,"lo68":54794,"mean":63200,"hi68":71416,"hi95":79379},
{"date":"2020-03-04","lo95":46853,"lo68":54968,"mean":63400,"hi68":71642,"hi95":79630},
{"date":"2020-03-07","lo95":46927,"lo68":55055,"mean":63500,"hi68":71755,"hi95":79756},
{"date":"2020-03-10","lo95":47000,"lo68":55141,"mean":63600,"hi68":71868,"hi95":79882},
{"date":"2020-03-14","lo95":47148,"lo68":55315,"mean":63800,"hi68":72094,"hi95":80133},
{"date":"2020-03-19","lo95":47185,"lo68":55358,"mean":63850,"hi68":72151,"hi95":80196},
{"date":"2020-03-24","lo95":47222,"lo68":55401,"mean":63900,"hi68":72207,"hi95":80258},
{"date":"2020-03-29","lo95":47259,"lo68":55445,"mean":63950,"hi68":72264,"hi95":80321},
{"date":"2020-04-03","lo95":47296,"lo68":55488,"mean":64000,"hi68":72320,"hi95":80384},
{"date":"2020-04-13","lo95":47296,"lo68":55488,"mean":64000,"hi68":72320,"hi95":80384},
{"date":"2020-04-21","lo95":47296,"lo68":55488,"mean":64000,"hi68":72320,"hi95":80384}
]
},
"columns": 2,
"spacing": {"row": 117, "column": 104},
"bounds": "flush",
"concat": [
{
 "width": 410, "height": 409,
 "title": {"text": "(a)", "dx": 22},
 "data": {"name": "a"},
 "layer": [
  {"mark": {"type": "area", "interpolate": "monotone"},
   "encoding": {
    "x": {"field": "date", "type": "temporal", "scale": {"type": "utc", "nice": false}, "axis": {"values": [{"year":2020,"month":1,"date":14,"utc":true},{"year":2020,"month":2,"date":13,"utc":true},{"year":2020,"month":3,"date":14,"utc":true},{"year":2020,"month":4,"date":13,"utc":true}], "labelExpr": "utcFormat(datum.value, '%b') + '\u00a0\u00a0' + utcFormat(datum.value, '%d')", "title": null}},
    "y": {"field": "lo95", "type": "quantitative", "scale": {"zero": false, "nice": false}, "axis": {"values": [1400000000,1400020000,1400040000,1400060000,1400080000], "labelExpr": "format(datum.value / 1e9, '.1f')", "title": "·10⁹", "titleAngle": 0, "titleX": 10, "titleY": -14, "titleAlign": "left", "titleBaseline": "alphabetic"}},
    "y2": {"field": "hi95"},
    "color": {"datum": "95% probability", "scale": {"domain": ["95% probability", "68% probability", "average"], "range": ["#e6e6ff", "#aaaaff", "#0000ff"]},
      "legend": {"legendX": 140, "legendY": 12, "labelOffset": 19, "symbolType": "M-2.3,-0.75H2.3V0.75H-2.3Z", "symbolStrokeWidth": 0,
        "labelExpr": "datum.label === 'average' ? '\u00a0\u00a0\u00a0\u00a0\u00a0\u00a0\u00a0average' : datum.label",
        "encode": {"symbols": {"update": {
          "shape": {"signal": "datum.value === 'average' ? 'M-2.3,-0.06H2.3V0.06H-2.3Z' : 'M-2.3,-0.75H2.3V0.75H-2.3Z'"},
          "fill": {"signal": "datum.value === 'average' ? '#0000ff' : datum.value === '68% probability' ? '#aaaaff' : '#e6e6ff'"},
          "stroke": {"value": "transparent"}, "opacity": {"value": 1}}}}}}
   }},
  {"mark": {"type": "area", "interpolate": "monotone"},
   "encoding": {
    "x": {"field": "date", "type": "temporal", "axis": null},
    "y": {"field": "lo68", "type": "quantitative", "axis": null},
    "y2": {"field": "hi68"},
    "color": {"datum": "68% probability"}
   }},
  {"mark": {"type": "line", "interpolate": "monotone", "strokeWidth": 1.2},
   "encoding": {
    "x": {"field": "date", "type": "temporal", "axis": {"orient": "top", "labels": false, "title": null, "values": [{"year":2020,"month":1,"date":14,"utc":true},{"year":2020,"month":2,"date":13,"utc":true},{"year":2020,"month":3,"date":14,"utc":true},{"year":2020,"month":4,"date":13,"utc":true}]}},
    "y": {"field": "mean", "type": "quantitative", "axis": {"orient": "right", "labels": false, "title": null, "values": [1400000000,1400020000,1400040000,1400060000,1400080000]}},
    "color": {"datum": "average"}
   }}
 ],
 "resolve": {"axis": {"x": "independent", "y": "independent"}}
},
{
 "width": 410, "height": 409,
 "title": {"text": "(b)", "dx": 22},
 "data": {"name": "b"},
 "layer": [
  {"transform": [{"filter": {"field": "series", "equal": "I"}}],
   "mark": {"type": "area", "interpolate": "monotone", "color": "#f6e3f6"},
   "encoding": {
    "x": {"field": "date", "type": "temporal", "scale": {"type": "utc", "nice": false}, "axis": {"values": [{"year":2020,"month":1,"date":14,"utc":true},{"year":2020,"month":2,"date":13,"utc":true},{"year":2020,"month":3,"date":14,"utc":true},{"year":2020,"month":4,"date":13,"utc":true}], "labelExpr": "utcFormat(datum.value, '%b') + '\u00a0\u00a0' + utcFormat(datum.value, '%d')", "title": null}},
    "y": {"field": "lo95", "type": "quantitative", "scale": {"nice": false}, "axis": {"values": [0,10000,20000,30000], "labelExpr": "format(datum.value / 1e4, 'd')", "title": "·10⁴", "titleAngle": 0, "titleX": 10, "titleY": -14, "titleAlign": "left", "titleBaseline": "alphabetic"}},
    "y2": {"field": "hi95"}
   }},
  {"transform": [{"filter": {"field": "series", "equal": "I"}}],
   "mark": {"type": "area", "interpolate": "monotone", "color": "#e4aae4"},
   "encoding": {"x": {"field": "date", "type": "temporal", "axis": null}, "y": {"field": "lo68", "type": "quantitative", "axis": null}, "y2": {"field": "hi68"}}},
  {"transform": [{"filter": {"field": "series", "equal": "I"}}],
   "mark": {"type": "line", "interpolate": "monotone", "strokeWidth": 1.2},
   "encoding": {"x": {"field": "date", "type": "temporal", "axis": null}, "y": {"field": "mean", "type": "quantitative", "axis": null},
    "color": {"datum": "I", "scale": {"domain": ["I", "R", "U"], "range": ["#b400b4", "#b40000", "#c08a1e"]},
      "legend": {"legendX": 302, "legendY": 12, "padding": 11, "labelOffset": 23, "symbolType": "M-2.2,0H2.2", "symbolStrokeWidth": 1.3,
        "encode": {"symbols": {"update": {"fill": {"value": "transparent"}, "opacity": {"value": 1}}}}}}}},
  {"transform": [{"filter": {"field": "series", "equal": "R"}}],
   "mark": {"type": "area", "interpolate": "monotone", "color": "#f6e4e4"},
   "encoding": {"x": {"field": "date", "type": "temporal", "axis": null}, "y": {"field": "lo95", "type": "quantitative", "axis": null}, "y2": {"field": "hi95"}}},
  {"transform": [{"filter": {"field": "series", "equal": "R"}}],
   "mark": {"type": "area", "interpolate": "monotone", "color": "#e6adad"},
   "encoding": {"x": {"field": "date", "type": "temporal", "axis": null}, "y": {"field": "lo68", "type": "quantitative", "axis": null}, "y2": {"field": "hi68"}}},
  {"transform": [{"filter": {"field": "series", "equal": "R"}}],
   "mark": {"type": "line", "interpolate": "monotone", "strokeWidth": 1.2},
   "encoding": {"x": {"field": "date", "type": "temporal", "axis": null}, "y": {"field": "mean", "type": "quantitative", "axis": null}, "color": {"datum": "R"}}},
  {"transform": [{"filter": {"field": "series", "equal": "U"}}],
   "mark": {"type": "area", "interpolate": "monotone", "color": "#f7efe2"},
   "encoding": {"x": {"field": "date", "type": "temporal", "axis": null}, "y": {"field": "lo95", "type": "quantitative", "axis": null}, "y2": {"field": "hi95"}}},
  {"transform": [{"filter": {"field": "series", "equal": "U"}}],
   "mark": {"type": "area", "interpolate": "monotone", "color": "#e9d3aa"},
   "encoding": {"x": {"field": "date", "type": "temporal", "axis": null}, "y": {"field": "lo68", "type": "quantitative", "axis": null}, "y2": {"field": "hi68"}}},
  {"transform": [{"filter": {"field": "series", "equal": "U"}}],
   "mark": {"type": "line", "interpolate": "monotone", "strokeWidth": 1.2},
   "encoding": {
    "x": {"field": "date", "type": "temporal", "axis": {"orient": "top", "labels": false, "title": null, "values": [{"year":2020,"month":1,"date":14,"utc":true},{"year":2020,"month":2,"date":13,"utc":true},{"year":2020,"month":3,"date":14,"utc":true},{"year":2020,"month":4,"date":13,"utc":true}]}},
    "y": {"field": "mean", "type": "quantitative", "axis": {"orient": "right", "labels": false, "title": null, "values": [0,10000,20000,30000]}},
    "color": {"datum": "U"}
   }}
 ],
 "resolve": {"axis": {"x": "independent", "y": "independent"}}
},
{
 "width": 410, "height": 409,
 "title": {"text": "(c)", "dx": 22},
 "data": {"name": "c"},
 "layer": [
  {"mark": {"type": "area", "interpolate": "monotone", "color": "#e6ffe6"},
   "encoding": {
    "x": {"field": "date", "type": "temporal", "scale": {"type": "utc", "nice": false}, "axis": {"values": [{"year":2020,"month":1,"date":14,"utc":true},{"year":2020,"month":2,"date":13,"utc":true},{"year":2020,"month":3,"date":14,"utc":true},{"year":2020,"month":4,"date":13,"utc":true}], "labelExpr": "utcFormat(datum.value, '%b') + '\u00a0\u00a0' + utcFormat(datum.value, '%d')", "title": null}},
    "y": {"field": "lo95", "type": "quantitative", "scale": {"nice": false}, "axis": {"values": [0,20000,40000,60000,80000,100000], "labelExpr": "format(datum.value / 1e5, '.1~f')", "title": "·10⁵", "titleAngle": 0, "titleX": 10, "titleY": -14, "titleAlign": "left", "titleBaseline": "alphabetic"}},
    "y2": {"field": "hi95"}
   }},
  {"mark": {"type": "area", "interpolate": "monotone", "color": "#aaffaa"},
   "encoding": {"x": {"field": "date", "type": "temporal", "axis": null}, "y": {"field": "lo68", "type": "quantitative", "axis": null}, "y2": {"field": "hi68"}}},
  {"mark": {"type": "line", "interpolate": "monotone", "strokeWidth": 1.2, "color": "#00e600"},
   "encoding": {
    "x": {"field": "date", "type": "temporal", "axis": {"orient": "top", "labels": false, "title": null, "values": [{"year":2020,"month":1,"date":14,"utc":true},{"year":2020,"month":2,"date":13,"utc":true},{"year":2020,"month":3,"date":14,"utc":true},{"year":2020,"month":4,"date":13,"utc":true}]}},
    "y": {"field": "mean", "type": "quantitative", "axis": {"orient": "right", "labels": false, "title": null, "values": [0,20000,40000,60000,80000,100000]}}
   }}
 ],
 "resolve": {"axis": {"x": "independent", "y": "independent"}}
},
{
 "width": 410, "height": 409,
 "title": {"text": "(d)", "dx": 22},
 "data": {"name": "d"},
 "layer": [
  {"mark": {"type": "area", "interpolate": "monotone", "color": "#e6e6e6"},
   "encoding": {
    "x": {"field": "date", "type": "temporal", "scale": {"type": "utc", "nice": false}, "axis": {"values": [{"year":2020,"month":1,"date":14,"utc":true},{"year":2020,"month":2,"date":13,"utc":true},{"year":2020,"month":3,"date":14,"utc":true},{"year":2020,"month":4,"date":13,"utc":true}], "labelExpr": "utcFormat(datum.value, '%b') + '\u00a0\u00a0' + utcFormat(datum.value, '%d')", "title": null}},
    "y": {"field": "lo95", "type": "quantitative", "scale": {"nice": false}, "axis": {"values": [0,20000,40000,60000,80000], "labelExpr": "format(datum.value / 1e4, 'd')", "title": "·10⁴", "titleAngle": 0, "titleX": 10, "titleY": -14, "titleAlign": "left", "titleBaseline": "alphabetic"}},
    "y2": {"field": "hi95"}
   }},
  {"mark": {"type": "area", "interpolate": "monotone", "color": "#aaaaaa"},
   "encoding": {"x": {"field": "date", "type": "temporal", "axis": null}, "y": {"field": "lo68", "type": "quantitative", "axis": null}, "y2": {"field": "hi68"}}},
  {"mark": {"type": "line", "interpolate": "monotone", "strokeWidth": 1.2, "color": "#000000"},
   "encoding": {
    "x": {"field": "date", "type": "temporal", "axis": {"orient": "top", "labels": false, "title": null, "values": [{"year":2020,"month":1,"date":14,"utc":true},{"year":2020,"month":2,"date":13,"utc":true},{"year":2020,"month":3,"date":14,"utc":true},{"year":2020,"month":4,"date":13,"utc":true}]}},
    "y": {"field": "mean", "type": "quantitative", "axis": {"orient": "right", "labels": false, "title": null, "values": [0,20000,40000,60000,80000]}}
   }}
 ],
 "resolve": {"axis": {"x": "independent", "y": "independent"}}
}
]
}
